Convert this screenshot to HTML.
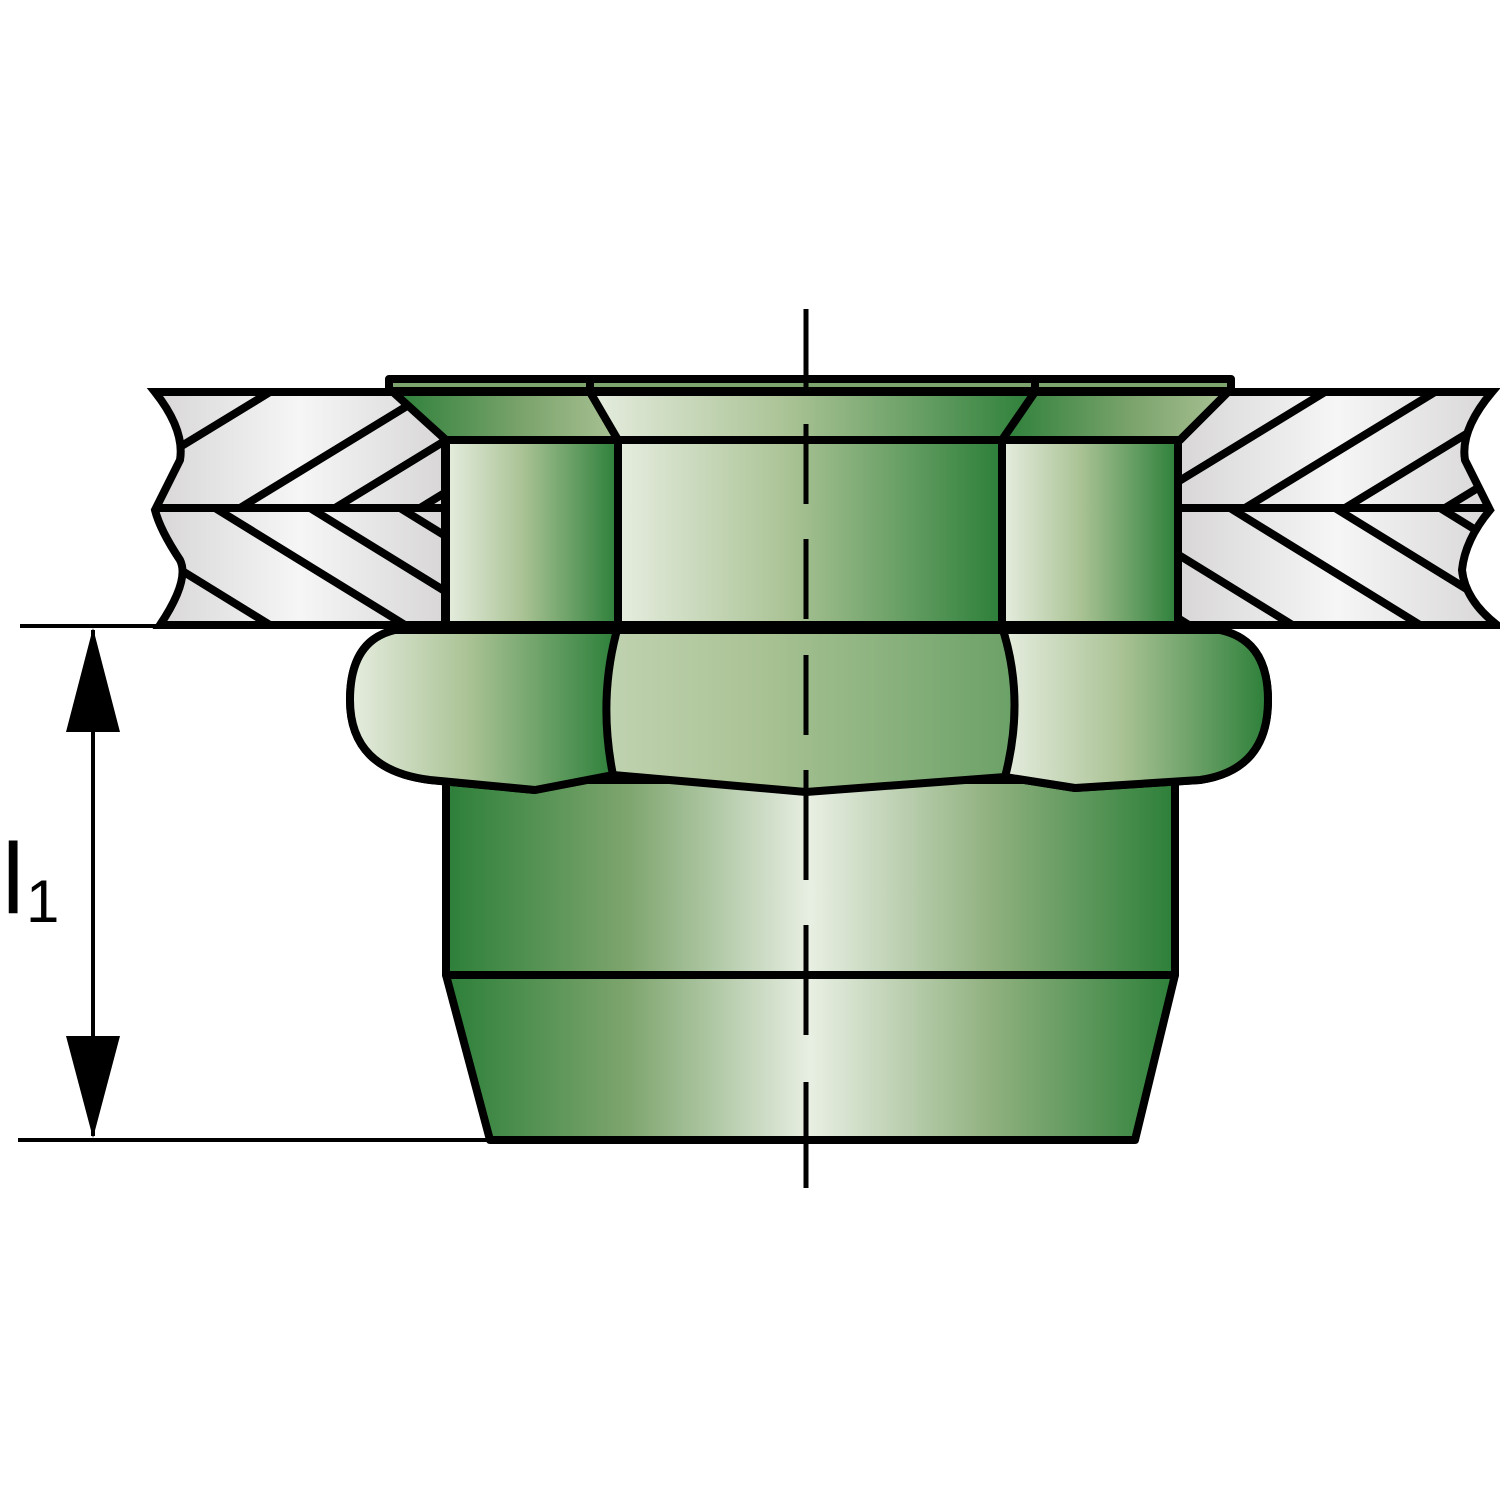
<!DOCTYPE html>
<html><head><style>html,body{margin:0;padding:0;background:#fff}svg{display:block}</style></head>
<body>
<svg width="1500" height="1500" viewBox="0 0 1500 1500" xmlns="http://www.w3.org/2000/svg">
<defs>
<linearGradient id="gray" x1="0" x2="1" y1="0" y2="0">
<stop offset="0" stop-color="#d8d6d6"/><stop offset="0.5" stop-color="#f6f6f6"/><stop offset="1" stop-color="#d8d6d6"/></linearGradient>
<linearGradient id="ld" x1="0" x2="1" y1="0" y2="0">
<stop offset="0" stop-color="#e6eddf"/><stop offset="0.45" stop-color="#a9c294"/><stop offset="1" stop-color="#2c7f39"/></linearGradient>
<linearGradient id="dld" x1="0" x2="1" y1="0" y2="0">
<stop offset="0" stop-color="#2c7f39"/><stop offset="0.25" stop-color="#7ea56e"/><stop offset="0.5" stop-color="#e8efe3"/><stop offset="0.75" stop-color="#8fb07e"/><stop offset="1" stop-color="#2c7f39"/></linearGradient>
<linearGradient id="dl" x1="0" x2="1" y1="0" y2="0">
<stop offset="0" stop-color="#2c7f39"/><stop offset="0.6" stop-color="#7ea56e"/><stop offset="1" stop-color="#a9c294"/></linearGradient>
<clipPath id="plL"><path d="M155,392 L445,392 L445,625 L160,625 Q190,580 180,560 Q160,530 155,510 Q170,480 180,460 Q185,430 155,392 Z"/></clipPath>
<clipPath id="plR"><path d="M1178,392 L1492,392 Q1460,430 1465,460 Q1475,480 1490,510 Q1465,540 1462,570 Q1465,600 1497,625 L1178,625 Z"/></clipPath>
</defs>

<g stroke="#000" stroke-width="8">
<path d="M155,392 L445,392 L445,625 L160,625 Q190,580 180,560 Q160,530 155,510 Q170,480 180,460 Q185,430 155,392 Z" fill="url(#gray)"/>
<path d="M1178,392 L1492,392 Q1460,430 1465,460 Q1475,480 1490,510 Q1465,540 1462,570 Q1465,600 1497,625 L1178,625 Z" fill="url(#gray)"/>
<g clip-path="url(#plL)">
<line x1="150" y1="508" x2="450" y2="508"/>
<path d="M80,508 L270,392 M240,508 L430,392 M335,508 L525,392 M420,508 L610,392 M180,380 L100,430"/>
<path d="M80,508 L270,625 M215,508 L405,625 M310,508 L500,625 M400,508 L590,625 M40,560 L200,660"/>
</g>
<g clip-path="url(#plR)">
<line x1="1170" y1="508" x2="1500" y2="508"/>
<path d="M1135,508 L1325,392 M1245,508 L1435,392 M1345,508 L1535,392 M1445,508 L1635,392 M1100,420 L1150,390"/>
<path d="M1230,508 L1420,625 M1335,508 L1525,625 M1440,508 L1630,625 M1130,525 L1320,642 M1165,610 L1200,632"/>
</g>
</g>

<g stroke="#000" stroke-width="8" stroke-linejoin="round">
<rect x="389" y="379" width="842" height="12" fill="#7ea56e"/>
<path d="M393,392 L590,392 L618,440 L446,440 Z" fill="url(#dl)"/>
<path d="M590,392 L1035,392 L1002,440 L618,440 Z" fill="url(#ld)"/>
<path d="M1035,392 L1228,392 L1180,440 L1002,440 Z" fill="url(#dl)"/>
<line x1="590" y1="380" x2="590" y2="392"/><line x1="1035" y1="380" x2="1035" y2="392"/>
<rect x="446" y="440" width="172" height="185" fill="url(#ld)"/>
<rect x="618" y="440" width="384" height="185" fill="url(#ld)"/>
<rect x="1002" y="440" width="176" height="185" fill="url(#ld)"/>
<rect x="446" y="780" width="729" height="195" fill="url(#dld)"/>
<path d="M446,975 L1175,975 L1135,1140 L490,1140 Z" fill="url(#dld)"/>
<path d="M395,630 L1220,630 Q1268,640 1268,700 Q1268,770 1200,780 L1075,788 L1005,777 L806,792 L613,775 L535,790 L430,780 Q350,770 350,700 Q350,640 395,630 Z" fill="url(#ld)"/>
<path d="M350,700 Q350,640 395,630 L617,630 Q598,700 613,775 L535,790 L430,780 Q350,770 350,700 Z" fill="url(#ld)"/>
<path d="M1003,630 L1220,630 Q1268,640 1268,700 Q1268,770 1200,780 L1075,788 L1005,777 Q1025,700 1003,630 Z" fill="url(#ld)"/>
</g>

<g stroke="#000" stroke-width="4">
<line x1="20" y1="626" x2="450" y2="626"/>
<line x1="18" y1="1140" x2="560" y2="1140"/>
<line x1="93" y1="630" x2="93" y2="1136"/>
</g>
<path d="M93,628 L66,732 L120,732 Z M93,1138 L66,1036 L120,1036 Z" fill="#000"/>

<g stroke="#000" stroke-width="5">
<path d="M806,309 V389 M806,424 V504 M806,539 V619 M806,655 V735 M806,770 V880 M806,925 V1035 M806,1082 V1188"/>
</g>

<text x="2" y="913" style="font-family:'Liberation Sans',sans-serif;font-size:100px">l</text>
<text x="26" y="922" style="font-family:'Liberation Sans',sans-serif;font-size:60px">1</text>
</svg>
</body></html>
